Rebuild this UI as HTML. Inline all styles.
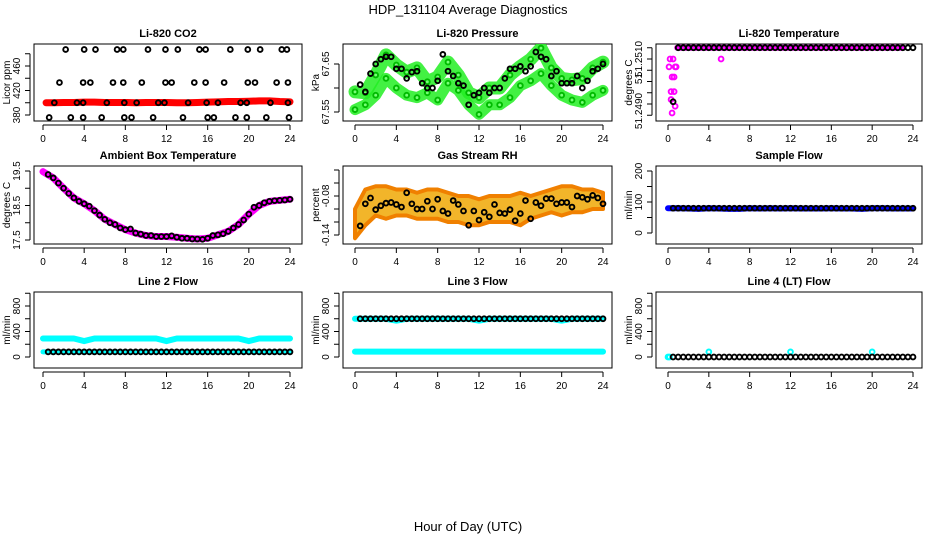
<!DOCTYPE html>
<html><head><meta charset="utf-8">
<style>
html,body{margin:0;padding:0;background:#fff;}
svg{display:block;font-family:"Liberation Sans",sans-serif;}
</style></head>
<body>
<svg id="chart" width="936" height="540" viewBox="0 0 936 540" xmlns="http://www.w3.org/2000/svg">
<rect width="936" height="540" fill="#fff"/>
<text x="468" y="14" text-anchor="middle" font-size="13">HDP_131104  Average Diagnostics</text>
<text x="468" y="531" text-anchor="middle" font-size="13">Hour of Day (UTC)</text>
<g id="panels"></g>
</svg>
<script>
// ---------- DATA ----------
const xTickLabels = [0,4,8,12,16,20,24];
const hours = [0,1,2,3,4,5,6,7,8,9,10,11,12,13,14,15,16,17,18,19,20,21,22,23,24];
const halfHours = [0.5,1,1.5,2,2.5,3,3.5,4,4.5,5,5.5,6,6.5,7,7.5,8,8.5,9,9.5,10,10.5,11,11.5,12,12.5,13,13.5,14,14.5,15,15.5,16,16.5,17,17.5,18,18.5,19,19.5,20,20.5,21,21.5,22,22.5,23,23.5,24];

// CO2
const co2BlackX = [2.2,4.0,5.1,7.2,7.8,10.2,11.9,13.1,15.2,15.8,18.2,19.9,21.1,23.2,23.7,
  1.6,3.9,4.6,6.8,7.8,9.6,11.9,12.5,14.7,15.8,17.6,19.9,20.6,22.7,23.8,
  1.1,3.3,3.9,6.2,7.9,9.1,11.2,11.8,14.1,15.9,17.0,19.2,19.8,22.1,23.8,
  0.6,2.7,3.9,5.7,7.9,8.6,10.7,13.6,16.0,16.6,18.7,19.8,21.7,23.9];
const co2BlackY = [487,487,487,487,487,487,487,487,487,487,487,487,487,487,487,
  433,433,433,433,433,433,433,433,433,433,433,433,433,433,433,
  400,400,400,400,400,400,400,400,400,400,400,400,400,400,400,
  376,376,376,376,376,376,376,376,376,376,376,376,376,376];
const co2Red = [400,400,400.5,400.5,401,401,400.5,400.5,400.5,400,400.5,400.5,400.5,400,400,400.5,401,401.5,402,402,402.5,403,403,402,401.5];

// Pressure
const presGreenUpper = [67.592,67.59,67.627,67.669,67.648,67.633,67.642,67.613,67.623,67.654,67.627,67.59,67.58,67.60,67.60,67.627,67.645,67.66,67.683,67.642,67.62,67.617,67.62,67.642,67.654];
const presGreenLower = [67.555,67.565,67.585,67.62,67.60,67.585,67.58,67.59,67.575,67.61,67.595,67.565,67.545,67.565,67.565,67.58,67.605,67.615,67.63,67.605,67.585,67.575,67.57,67.585,67.595];
const presBlack = [67.607,67.592,67.63,67.65,67.66,67.665,67.665,67.64,67.64,67.62,67.633,67.635,67.61,67.60,67.60,67.615,67.67,67.635,67.625,67.61,67.605,67.565,67.585,67.59,67.60,67.59,67.60,67.60,67.62,67.64,67.64,67.645,67.635,67.645,67.675,67.665,67.66,67.625,67.635,67.61,67.61,67.61,67.625,67.60,67.615,67.635,67.64,67.65];

// Li-820 temperature
const tempEarlyX = [0.2,0.5,0.1,0.7,0.4,0.3,0.6,0.3,0.7,0.4,5.2,0.6,0.8];
const tempEarlyY = [51.2510,51.2510,51.25065,51.25065,51.2502,51.24955,51.24955,51.2492,51.2489,51.2486,51.2510,51.2502,51.25065];
const tempTop = [51.2515,51.2515,51.2515,51.2515,51.2515,51.2515,51.2515,51.2515,51.2515,51.2515,51.2515,51.2515,51.2515,51.2515,51.2515,51.2515,51.2515,51.2515,51.2515,51.2515,51.2515,51.2515,51.2515,51.2515];
const tempBlackEarly = [51.2491];

// Ambient
const ambBlack = [19.4,19.3,19.15,19.0,18.85,18.72,18.62,18.55,18.48,18.35,18.22,18.1,18.0,17.95,17.85,17.8,17.82,17.7,17.67,17.63,17.63,17.6,17.6,17.6,17.62,17.58,17.55,17.55,17.53,17.53,17.52,17.55,17.63,17.65,17.68,17.75,17.85,17.95,18.08,18.25,18.45,18.5,18.58,18.62,18.64,18.65,18.66,18.68];
const ambMagenta = [19.48,19.3,19.0,18.72,18.55,18.35,18.1,17.95,17.8,17.7,17.63,17.6,17.6,17.58,17.55,17.53,17.55,17.65,17.75,17.95,18.25,18.5,18.62,18.65,18.68];

// RH
const rhBlack = [-0.126,-0.092,-0.083,-0.101,-0.095,-0.091,-0.09,-0.093,-0.097,-0.075,-0.092,-0.10,-0.1,-0.088,-0.1,-0.085,-0.103,-0.107,-0.087,-0.093,-0.103,-0.125,-0.103,-0.117,-0.105,-0.112,-0.093,-0.106,-0.107,-0.101,-0.118,-0.107,-0.087,-0.115,-0.09,-0.095,-0.084,-0.084,-0.092,-0.09,-0.09,-0.097,-0.08,-0.082,-0.085,-0.079,-0.083,-0.092];
const rhUpper = [-0.10,-0.07,-0.065,-0.065,-0.07,-0.07,-0.075,-0.07,-0.07,-0.075,-0.08,-0.08,-0.085,-0.08,-0.08,-0.08,-0.075,-0.08,-0.075,-0.07,-0.065,-0.065,-0.07,-0.07,-0.075];
const rhLower = [-0.145,-0.125,-0.11,-0.115,-0.11,-0.11,-0.115,-0.115,-0.115,-0.12,-0.12,-0.125,-0.125,-0.12,-0.12,-0.12,-0.125,-0.115,-0.11,-0.105,-0.11,-0.105,-0.105,-0.10,-0.10];

// Flows
const sampleBlue = [80,80,79,78,80,79,78,78,80,79,80,79,80,79,79,79,80,79,79,78,80,80,79,79,79];
const sampleBlack = 80;
const line2CyanHigh = [290,290,290,290,250,290,290,290,290,290,290,290,250,290,290,290,290,290,290,290,250,290,290,290,290];
const line2CyanLow = [80,80,80,80,80,80,80,80,80,80,80,80,80,80,80,80,80,80,80,80,80,80,80,80,80];
const line2Black = 80;
const line3CyanHigh = [600,600,600,600,570,600,600,600,600,600,600,600,570,600,600,600,600,600,600,600,570,600,600,600,600];
const line3CyanLow = [85,85,85,85,85,85,85,85,85,85,85,85,85,85,85,85,85,85,85,85,85,85,85,85,85];
const line3Black = 600;
const line4CyanX = [0,0.15,4,12,20];
const line4CyanY = [0,0,80,80,80];
const line4Black = 0;

// ---------- LAYOUT ----------
const NS = "http://www.w3.org/2000/svg";
const root = document.getElementById('panels');
function mk(tag, attrs, parent){
  const e = document.createElementNS(NS, tag);
  for (const k in attrs) e.setAttribute(k, attrs[k]);
  (parent||root).appendChild(e); return e;
}
const cols = [{l:34,r:302,x0:43,x24:290},{l:343,r:612,x0:355,x24:603},{l:656,r:922,x0:668,x24:913}];
const rows = [{t:44,b:121},{t:166,b:244},{t:292,b:368}];

function makePanel(name, title, ci, ri, yref, ticks, labels, ytitle){
  const c = cols[ci], r = rows[ri];
  const g = mk('g', {});
  
  
  const X = h => c.x0 + (c.x24 - c.x0) * h / 24;
  const Y = v => yref[1] + (v - yref[0]) * (yref[3] - yref[1]) / (yref[2] - yref[0]);
  const box = mk('rect', {x:c.l, y:r.t, width:c.r-c.l, height:r.b-r.t, fill:'none', stroke:'#000', 'stroke-width':1}, g);
  
  
  const t = mk('text', {x:(c.l+c.r)/2, y:r.t-7, 'text-anchor':'middle', 'font-size':11, 'font-weight':'bold'}, g);
  t.textContent = title;
  
  
  const xa = mk('g', {}, g);
  
  
  const ay = r.b + 4;
  mk('line', {x1:X(0), x2:X(24), y1:ay, y2:ay, stroke:'#000'}, xa);
  xTickLabels.forEach(v => {
    mk('line', {x1:X(v), x2:X(v), y1:ay, y2:ay+5, stroke:'#000'}, xa);
    const tl = mk('text', {x:X(v), y:ay+17, 'text-anchor':'middle', 'font-size':10}, xa);
    tl.textContent = v;
    
    
  });
  const ya = mk('g', {}, g);
  
  
  const ax = c.l - 4;
  mk('line', {x1:ax, x2:ax, y1:Y(ticks[0]), y2:Y(ticks[ticks.length-1]), stroke:'#000'}, ya);
  ticks.forEach(v => mk('line', {x1:ax-5, x2:ax, y1:Y(v), y2:Y(v), stroke:'#000'}, ya));
  labels.forEach(l => {
    const tx = ax - 10, ty = Y(l[0]) + (l[2]||0);
    const tl = mk('text', {x:tx, y:ty, 'text-anchor':'middle', 'font-size':10, transform:`rotate(-90 ${tx} ${ty})`}, ya);
    tl.textContent = l[1];
    
    
  });
  const yt = mk('text', {x:c.l-24, y:(r.t+r.b)/2, 'text-anchor':'middle', 'font-size':10, transform:`rotate(-90 ${c.l-24} ${(r.t+r.b)/2})`}, g);
  yt.textContent = ytitle;
  
  
  const clipId = name + '-clip';
  const cp = mk('clipPath', {id:clipId}, g);
  mk('rect', {x:c.l, y:r.t, width:c.r-c.l, height:r.b-r.t}, cp);
  const marks = mk('g', {'clip-path':`url(#${clipId})`}, g);
  return {X, Y, g:marks, name};
}
function band(p, xs, ys, color, w, nm, op){
  const pl = mk('polyline', {points: xs.map((x,i)=>p.X(x)+','+p.Y(ys[i])).join(' '), fill:'none', stroke:color, 'stroke-width':w, 'stroke-linecap':'round', 'stroke-linejoin':'round', opacity: op||1}, p.g);
  
  
}
function pts(p, xs, ys, color, nm, fill){
  xs.forEach((x,i) => {
    const c = mk('circle', {cx:p.X(x), cy:p.Y(ys[i]), r:2.4, fill:fill||'none', stroke:color, 'stroke-width':1.9}, p.g);
    
    
  });
}
const fill = (v) => halfHours.map(() => v);

// Panel 1 CO2
let p = makePanel('co2-panel', 'Li-820 CO2', 0, 0, [380,115,460,66], [380,400,420,440,460,480], [[380,'380'],[420,'420'],[460,'460']], 'Licor ppm');
band(p, hours.map(h=>Math.max(h,0.3)), co2Red, '#f00', 7, 'co2-red-series');
pts(p, co2BlackX, co2BlackY, '#000', 'co2-black-point');

// Panel 2 Pressure
p = makePanel('pressure-panel', 'Li-820 Pressure', 1, 0, [67.55,112,67.65,64], [67.55,67.60,67.65], [[67.55,'67.55'],[67.65,'67.65']], 'kPa');
band(p, hours, presGreenUpper, '#2e2', 13, 'pressure-green-upper', 0.85);
band(p, hours, presGreenLower, '#2e2', 11, 'pressure-green-lower', 0.85);
pts(p, hours, presGreenUpper, '#0b0', 'pressure-green-point', '#7f7');
pts(p, hours, presGreenLower, '#0b0', 'pressure-green-point', '#7f7');
pts(p, halfHours, presBlack, '#000', 'pressure-black-point');

// Panel 3 Temperature
p = makePanel('li820-temp-panel', 'Li-820 Temperature', 2, 0, [51.2490,104,51.2510,59], [51.2485,51.2490,51.2495,51.2500,51.2505,51.2510,51.2515], [[51.2490,'51.2490',7],[51.2500,'51',-3],[51.2510,'51.2510']], 'degrees C');
band(p, [0.9].concat(halfHours.slice(1).filter((h,i)=>i%2===0).concat([24])).slice(0,tempTop.length), tempTop, '#f0f', 6, 'temp-magenta-top');
pts(p, tempEarlyX, tempEarlyY, '#f0f', 'temp-magenta-point');
pts(p, halfHours.slice(1), fill(51.2515).slice(1), '#000', 'temp-black-point');
pts(p, [0.5], tempBlackEarly, '#000', 'temp-black-point');

// Panel 4 Ambient
p = makePanel('ambient-panel', 'Ambient Box Temperature', 0, 1, [17.5,240,19.5,171], [17.5,18.0,18.5,19.0,19.5], [[17.5,'17.5'],[18.5,'18.5'],[19.5,'19.5']], 'degrees C');
band(p, hours, ambMagenta, '#f0f', 7, 'ambient-magenta-series');
pts(p, halfHours, ambBlack, '#000', 'ambient-black-point');

// Panel 5 RH
p = makePanel('rh-panel', 'Gas Stream RH', 1, 1, [-0.14,235,-0.08,196], [-0.14,-0.12,-0.10,-0.08,-0.06,-0.04], [[-0.14,'-0.14'],[-0.08,'-0.08']], 'percent');
const rhPoly = mk('polygon', {points: hours.map((h,i)=>p.X(h)+','+p.Y(rhUpper[i])).concat(hours.slice().reverse().map((h,i)=>p.X(h)+','+p.Y(rhLower[24-i]))).join(' '), fill:'#f2b52a', stroke:'#f08000', 'stroke-width':4, 'stroke-linejoin':'round'}, p.g);


pts(p, halfHours, rhBlack, '#000', 'rh-black-point');

// Panel 6 Sample flow
p = makePanel('sample-flow-panel', 'Sample Flow', 2, 1, [0,233,200,171], [0,50,100,150,200], [[0,'0'],[100,'100'],[200,'200']], 'ml/min');
band(p, hours, sampleBlue, '#00f', 6, 'sample-blue-series');
pts(p, halfHours, fill(sampleBlack), '#000', 'sample-black-point');

// Panel 7 Line 2
const flowTicks = [0,200,400,600,800,1000], flowLabels = [[0,'0'],[400,'400'],[800,'800']];
p = makePanel('line2-panel', 'Line 2 Flow', 0, 2, [0,357,800,306], flowTicks, flowLabels, 'ml/min');
band(p, hours, line2CyanHigh, '#0ff', 6, 'line2-cyan-high');
band(p, hours, line2CyanLow, '#0ff', 5, 'line2-cyan-low');
pts(p, halfHours, fill(line2Black), '#000', 'line2-black-point');

// Panel 8 Line 3
p = makePanel('line3-panel', 'Line 3 Flow', 1, 2, [0,357,800,306], flowTicks, flowLabels, 'ml/min');
band(p, hours, line3CyanHigh, '#0ff', 6, 'line3-cyan-high');
band(p, hours, line3CyanLow, '#0ff', 6, 'line3-cyan-low');
pts(p, halfHours, fill(line3Black), '#000', 'line3-black-point');

// Panel 9 Line 4
p = makePanel('line4-panel', 'Line 4 (LT) Flow', 2, 2, [0,357,800,306], flowTicks, flowLabels, 'ml/min');
pts(p, line4CyanX, line4CyanY, '#0ff', 'line4-cyan-point');
pts(p, halfHours, fill(line4Black), '#000', 'line4-black-point');
</script>
</body></html>
